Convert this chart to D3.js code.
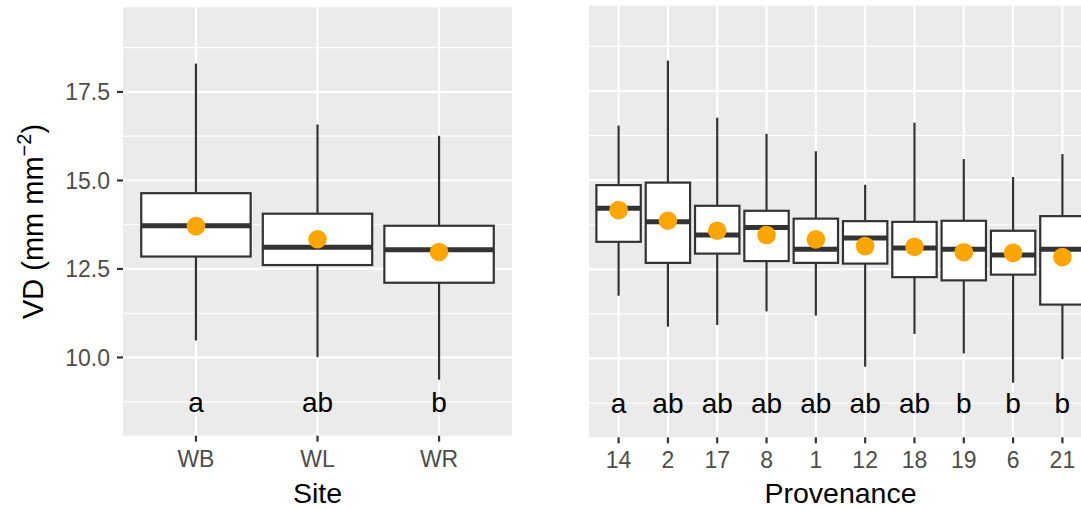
<!DOCTYPE html>
<html>
<head>
<meta charset="utf-8">
<script src="https://cdn.jsdelivr.net/npm/d3@7"></script>
<style>
  body { margin: 0; background: #fff; }
  svg { display: block; font-family: "Liberation Sans", Arial, sans-serif; }
</style>
</head>
<body>
<svg id="chart" width="1081" height="509"></svg>
<script>
// ---- data ----
const siteCats = ["WB", "WL", "WR"];
const siteWhiskerLow = [10.48, 10.01, 9.37];
const siteQ1 = [12.85, 12.61, 12.11];
const siteMedian = [13.72, 13.11, 13.04];
const siteQ3 = [14.64, 14.06, 13.72];
const siteWhiskerHigh = [18.30, 16.58, 16.26];
const siteMean = [13.71, 13.34, 12.98];
const siteLetters = ["a", "ab", "b"];

const provCats = ["14", "2", "17", "8", "1", "12", "18", "19", "6", "21"];
const provWhiskerLow = [11.76, 10.89, 10.94, 11.32, 11.20, 9.77, 10.69, 10.14, 9.32, 9.98];
const provQ1 = [13.27, 12.68, 12.94, 12.73, 12.68, 12.66, 12.28, 12.19, 12.35, 11.51];
const provMedian = [14.21, 13.83, 13.46, 13.67, 13.06, 13.38, 13.10, 13.06, 12.90, 13.06];
const provQ3 = [14.86, 14.93, 14.28, 14.14, 13.92, 13.85, 13.83, 13.86, 13.58, 13.99];
const provWhiskerHigh = [16.53, 18.35, 16.75, 16.30, 15.81, 14.87, 16.61, 15.59, 15.09, 15.73];
const provMean = [14.16, 13.86, 13.58, 13.46, 13.34, 13.15, 13.13, 12.98, 12.96, 12.84];
const provLetters = ["a", "ab", "ab", "ab", "ab", "ab", "ab", "b", "b", "b"];

const yMajor = [10.0, 12.5, 15.0, 17.5];
const yMinor = [8.75, 11.25, 13.75, 16.25, 18.75];
const yDomain = [7.79, 19.89];
const letterY = 8.75;

// ---- drawing ----
const svg = d3.select("#chart");

function panel(opts) {
  const { cats, lo, q1, med, q3, hi, mean, letters, x0, x1, yTop, yBot, showY, title } = opts;
  const g = svg.append("g");
  const y = d3.scaleLinear().domain(yDomain).range([yBot, yTop]);
  // ggplot discrete scale: positions 1..n, expanded by 0.6 on each side
  const xi = d3.scaleLinear().domain([0.4, cats.length + 0.6]).range([x0, x1]);
  const cx = d => xi(cats.indexOf(d) + 1);
  const bw = xi(1.9) - xi(1);

  g.append("rect").attr("x", x0).attr("y", yTop).attr("width", x1 - x0).attr("height", yBot - yTop).attr("fill", "#EBEBEB");

  g.selectAll(".ymin").data(yMinor).join("line")
    .attr("x1", x0).attr("x2", x1).attr("y1", d => y(d)).attr("y2", d => y(d))
    .attr("stroke", "#fff").attr("stroke-width", 1.1);
  g.selectAll(".ymaj").data(yMajor).join("line")
    .attr("x1", x0).attr("x2", x1).attr("y1", d => y(d)).attr("y2", d => y(d))
    .attr("stroke", "#fff").attr("stroke-width", 2.2);
  g.selectAll(".xmaj").data(cats).join("line")
    .attr("x1", d => cx(d)).attr("x2", d => cx(d)).attr("y1", yTop).attr("y2", yBot)
    .attr("stroke", "#fff").attr("stroke-width", 2.2);

  const rows = cats.map((c, i) => ({ c, lo: lo[i], q1: q1[i], med: med[i], q3: q3[i], hi: hi[i], mean: mean[i], lab: letters[i] }));

  g.selectAll(".wu").data(rows).join("line")
    .attr("x1", d => cx(d.c)).attr("x2", d => cx(d.c)).attr("y1", d => y(d.q3)).attr("y2", d => y(d.hi))
    .attr("stroke", "#333").attr("stroke-width", 2.2);
  g.selectAll(".wl").data(rows).join("line")
    .attr("x1", d => cx(d.c)).attr("x2", d => cx(d.c)).attr("y1", d => y(d.q1)).attr("y2", d => y(d.lo))
    .attr("stroke", "#333").attr("stroke-width", 2.2);
  g.selectAll(".box").data(rows).join("rect")
    .attr("x", d => cx(d.c) - bw / 2).attr("width", bw)
    .attr("y", d => y(d.q3)).attr("height", d => y(d.q1) - y(d.q3))
    .attr("fill", "#fff").attr("stroke", "#333").attr("stroke-width", 2.2);
  g.selectAll(".med").data(rows).join("line")
    .attr("x1", d => cx(d.c) - bw / 2).attr("x2", d => cx(d.c) + bw / 2)
    .attr("y1", d => y(d.med)).attr("y2", d => y(d.med))
    .attr("stroke", "#333").attr("stroke-width", 5);
  g.selectAll(".mean").data(rows).join("circle")
    .attr("cx", d => cx(d.c)).attr("cy", d => y(d.mean)).attr("r", 9.3)
    .attr("fill", "#FFA500");
  g.selectAll(".lab").data(rows).join("text")
    .attr("x", d => cx(d.c)).attr("y", y(letterY)).attr("dy", "0.35em")
    .attr("text-anchor", "middle").attr("font-size", 28).attr("fill", "#000")
    .text(d => d.lab);

  g.selectAll(".xt").data(cats).join("line")
    .attr("x1", d => cx(d)).attr("x2", d => cx(d)).attr("y1", yBot).attr("y2", yBot + 6)
    .attr("stroke", "#333").attr("stroke-width", 2.2);
  g.selectAll(".xl").data(cats).join("text")
    .attr("x", d => cx(d)).attr("y", yBot + 31)
    .attr("text-anchor", "middle").attr("font-size", 23).attr("fill", "#4D4D4D")
    .text(d => d);
  g.append("text").attr("x", (x0 + x1) / 2).attr("y", 503)
    .attr("text-anchor", "middle").attr("font-size", 28.5).attr("fill", "#000")
    .text(title);

  if (showY) {
    g.selectAll(".yt").data(yMajor).join("line")
      .attr("x1", x0 - 6).attr("x2", x0).attr("y1", d => y(d)).attr("y2", d => y(d))
      .attr("stroke", "#333").attr("stroke-width", 2.2);
    g.selectAll(".yl").data(yMajor).join("text")
      .attr("x", x0 - 13).attr("y", d => y(d)).attr("dy", "0.36em")
      .attr("text-anchor", "end").attr("font-size", 23).attr("fill", "#4D4D4D")
      .text(d => d.toFixed(1));
    const t = g.append("text")
      .attr("transform", `translate(43,${(yTop + yBot) / 2}) rotate(-90)`)
      .attr("text-anchor", "middle").attr("font-size", 29).attr("fill", "#000");
    t.append("tspan").text("VD (mm mm");
    t.append("tspan").attr("font-size", 20).attr("dy", -12).text("\u22122");
    t.append("tspan").attr("dy", 12).text(")");
  }
}

panel({ cats: siteCats, lo: siteWhiskerLow, q1: siteQ1, med: siteMedian, q3: siteQ3, hi: siteWhiskerHigh,
  mean: siteMean, letters: siteLetters, x0: 123, x1: 512, yTop: 7.3, yBot: 435.7, showY: true, title: "Site" });
panel({ cats: provCats, lo: provWhiskerLow, q1: provQ1, med: provMedian, q3: provQ3, hi: provWhiskerHigh,
  mean: provMean, letters: provLetters, x0: 589, x1: 1092, yTop: 5.7, yBot: 437.3, showY: false, title: "Provenance" });
</script>
</body>
</html>
